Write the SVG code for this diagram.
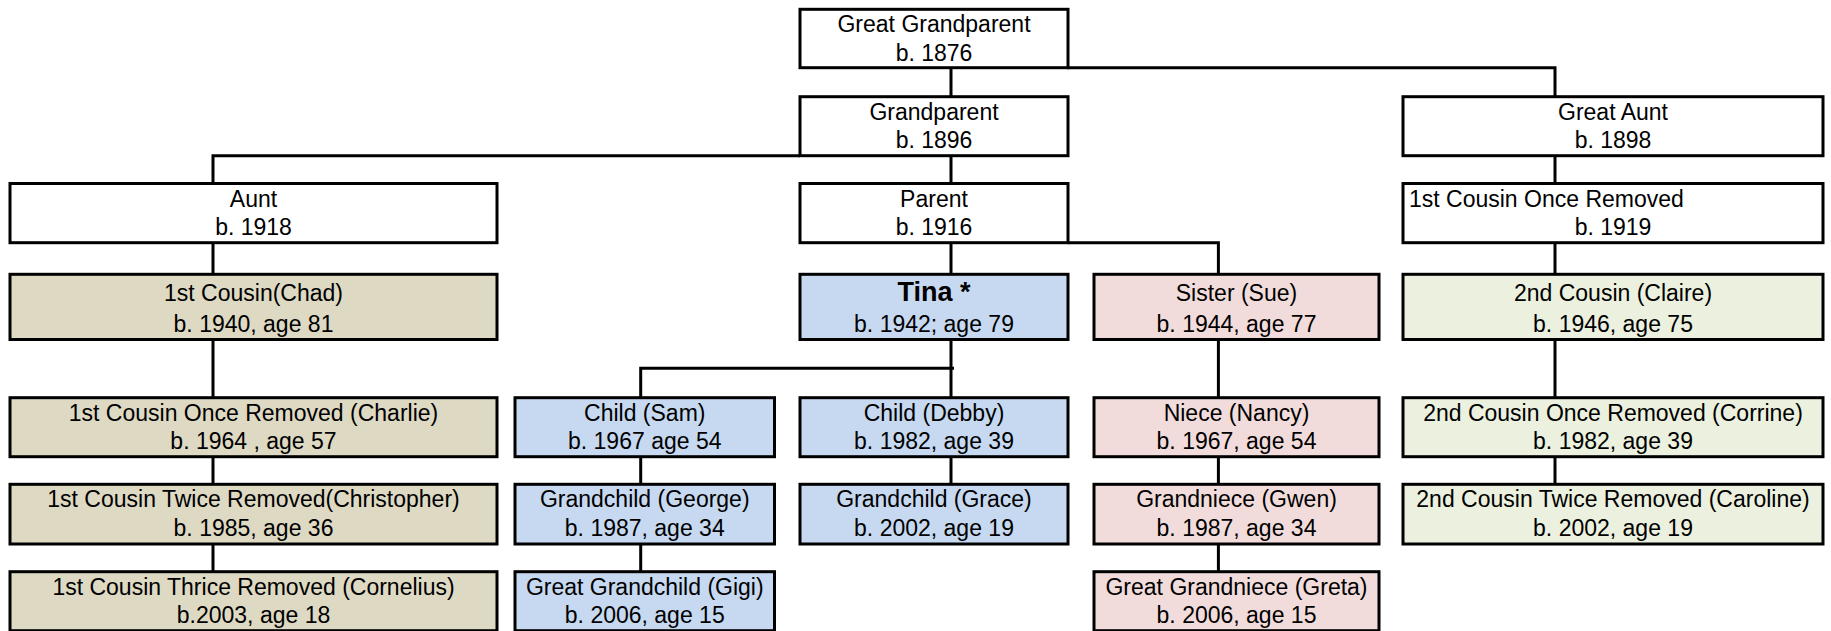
<svg xmlns="http://www.w3.org/2000/svg" width="1831" height="631" viewBox="0 0 1831 631">
<style>
.n{stroke:#000;stroke-width:3}
.w{fill:#fff}.t{fill:#ddd9c3}.b{fill:#c6d9f1}.p{fill:#f2dcdb}.g{fill:#ebf1de}
text{font-family:"Liberation Sans",Arial,sans-serif;font-size:23px;fill:#000;text-anchor:middle}
.bold{font-weight:bold;font-size:27px}
.l{text-anchor:start}
#connectors path{fill:none;stroke:#000;stroke-width:3}
</style>
<rect x="0" y="0" width="1831" height="631" fill="#fff"/>
<g id="connectors">
<path d="M951 67.7V96.7"/>
<path d="M1067 67.7H1555V96.7"/>
<path d="M800 155.7H213V183.5"/>
<path d="M951 155.7V183.5"/>
<path d="M1555 155.7V183.5"/>
<path d="M213 242.7V274.3"/>
<path d="M951 242.7V274.3"/>
<path d="M1068 242.7H1218.4V274.3"/>
<path d="M1555 242.7V274.3"/>
<path d="M213 339.5V397.7"/>
<path d="M951 339.5V397.7"/>
<path d="M954 368.3H640.7V397.7"/>
<path d="M1218.4 339.5V397.7"/>
<path d="M1555 339.5V397.7"/>
<path d="M213 456.7V484.3"/>
<path d="M640.7 456.7V484.3"/>
<path d="M951 456.7V484.3"/>
<path d="M1218.4 456.7V484.3"/>
<path d="M1555 456.7V484.3"/>
<path d="M213 544V571.7"/>
<path d="M640.7 544V571.7"/>
<path d="M1218.4 544V571.7"/>
</g>
<g id="great-grandparent"><rect class="n w" x="800" y="9.3" width="268" height="58.4"/><text x="934" y="32.3">Great Grandparent</text><text x="934" y="60.8">b. 1876</text></g>
<g id="grandparent"><rect class="n w" x="800" y="96.7" width="268" height="59"/><text x="934" y="119.7">Grandparent</text><text x="934" y="148.2">b. 1896</text></g>
<g id="great-aunt"><rect class="n w" x="1403" y="96.7" width="420" height="59"/><text x="1613" y="119.7">Great Aunt</text><text x="1613" y="148.2">b. 1898</text></g>
<g id="aunt"><rect class="n w" x="10" y="183.5" width="487" height="59.2"/><text x="253.5" y="206.5">Aunt</text><text x="253.5" y="235">b. 1918</text></g>
<g id="parent"><rect class="n w" x="800" y="183.5" width="268" height="59.2"/><text x="934" y="206.5">Parent</text><text x="934" y="235">b. 1916</text></g>
<g id="cousin-once-removed"><rect class="n w" x="1403" y="183.5" width="420" height="59.2"/><text class="l" x="1409" y="206.5">1st Cousin Once Removed</text><text x="1613" y="235">b. 1919</text></g>
<g id="chad"><rect class="n t" x="10" y="274.3" width="487" height="65.2"/><text x="253.5" y="301">1st Cousin(Chad)</text><text x="253.5" y="331.7">b. 1940, age 81</text></g>
<g id="tina"><rect class="n b" x="800" y="274.3" width="268" height="65.2"/><text class="bold" x="934" y="301">Tina *</text><text x="934" y="331.7">b. 1942; age 79</text></g>
<g id="sue"><rect class="n p" x="1094" y="274.3" width="285" height="65.2"/><text x="1236.5" y="301">Sister (Sue)</text><text x="1236.5" y="331.7">b. 1944, age 77</text></g>
<g id="claire"><rect class="n g" x="1403" y="274.3" width="420" height="65.2"/><text x="1613" y="301">2nd Cousin (Claire)</text><text x="1613" y="331.7">b. 1946, age 75</text></g>
<g id="charlie"><rect class="n t" x="10" y="397.7" width="487" height="59"/><text x="253.5" y="420.5">1st Cousin Once Removed (Charlie)</text><text x="253.5" y="449.2">b. 1964 , age 57</text></g>
<g id="sam"><rect class="n b" x="515" y="397.7" width="259.5" height="59"/><text x="644.75" y="420.5">Child (Sam)</text><text x="644.75" y="449.2">b. 1967 age 54</text></g>
<g id="debby"><rect class="n b" x="800" y="397.7" width="268" height="59"/><text x="934" y="420.5">Child (Debby)</text><text x="934" y="449.2">b. 1982, age 39</text></g>
<g id="nancy"><rect class="n p" x="1094" y="397.7" width="285" height="59"/><text x="1236.5" y="420.5">Niece (Nancy)</text><text x="1236.5" y="449.2">b. 1967, age 54</text></g>
<g id="corrine"><rect class="n g" x="1403" y="397.7" width="420" height="59"/><text x="1613" y="420.5">2nd Cousin Once Removed (Corrine)</text><text x="1613" y="449.2">b. 1982, age 39</text></g>
<g id="christopher"><rect class="n t" x="10" y="484.3" width="487" height="59.7"/><text x="253.5" y="507.3">1st Cousin Twice Removed(Christopher)</text><text x="253.5" y="535.8">b. 1985, age 36</text></g>
<g id="george"><rect class="n b" x="515" y="484.3" width="259.5" height="59.7"/><text x="644.75" y="507.3">Grandchild (George)</text><text x="644.75" y="535.8">b. 1987, age 34</text></g>
<g id="grace"><rect class="n b" x="800" y="484.3" width="268" height="59.7"/><text x="934" y="507.3">Grandchild (Grace)</text><text x="934" y="535.8">b. 2002, age 19</text></g>
<g id="gwen"><rect class="n p" x="1094" y="484.3" width="285" height="59.7"/><text x="1236.5" y="507.3">Grandniece (Gwen)</text><text x="1236.5" y="535.8">b. 1987, age 34</text></g>
<g id="caroline"><rect class="n g" x="1403" y="484.3" width="420" height="59.7"/><text x="1613" y="507.3">2nd Cousin Twice Removed (Caroline)</text><text x="1613" y="535.8">b. 2002, age 19</text></g>
<g id="cornelius"><rect class="n t" x="10" y="571.7" width="487" height="59"/><text x="253.5" y="594.7">1st Cousin Thrice Removed (Cornelius)</text><text x="253.5" y="623.2">b.2003, age 18</text></g>
<g id="gigi"><rect class="n b" x="515" y="571.7" width="259.5" height="59"/><text x="644.75" y="594.7">Great Grandchild (Gigi)</text><text x="644.75" y="623.2">b. 2006, age 15</text></g>
<g id="greta"><rect class="n p" x="1094" y="571.7" width="285" height="59"/><text x="1236.5" y="594.7">Great Grandniece (Greta)</text><text x="1236.5" y="623.2">b. 2006, age 15</text></g>
</svg>
